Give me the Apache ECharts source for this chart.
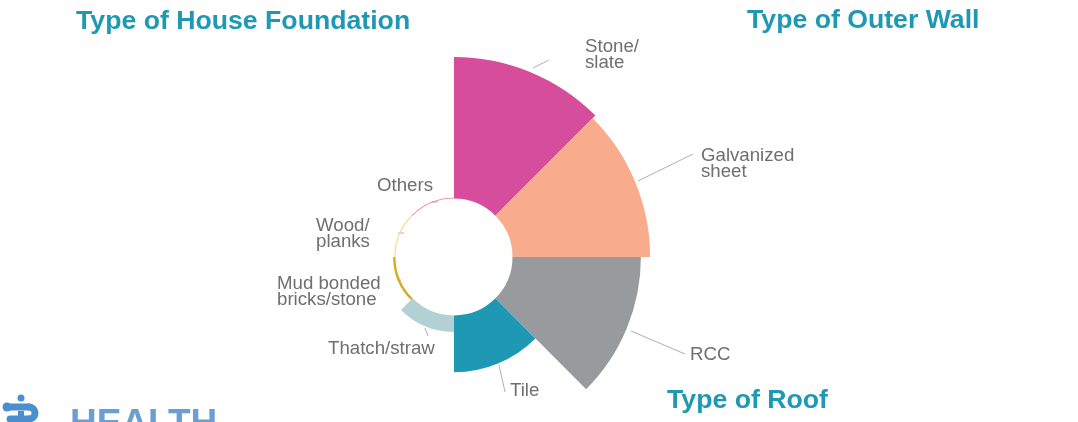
<!DOCTYPE html>
<html>
<head>
<meta charset="utf-8">
<style>
html, body { margin: 0; padding: 0; background: #fff; overflow: hidden; }
#main { width: 1078px; height: 422px; }
</style>
<script src="https://cdn.jsdelivr.net/npm/echarts@6/dist/echarts.min.js"></script>
</head>
<body>
<div id="main"></div>
<script>
// roof types, clockwise from 12 o'clock
const roofTypes = ['Stone/\nslate', 'Galvanized\nsheet', 'RCC', 'Tile', 'Thatch/straw', 'Mud bonded\nbricks/stone', 'Wood/\nplanks', 'Others'];
const roofShares = [29.2, 28.4, 26.5, 11.7, 3.4, 0.5, 0.25, 0.15];
const roofColors = ['#d64d9b', '#f8ac8c', '#989b9e', '#1e98b3', '#b3d1d3', '#d8ab22', '#fdd99a', '#e8798f'];
const headings = ['Type of House Foundation', 'Type of Outer Wall', 'Type of Roof'];
const brandName = 'HEALTH';

// label anchor and leader line for each slice
const labelSpots = [
  { x: 585, y: 55, line: [[533, 68], [549, 60]] },
  { x: 701, y: 164, line: [[638, 181], [693, 154]] },
  { x: 690, y: 355, line: [[631, 331], [685, 354]] },
  { x: 510, y: 390.5, line: [[499, 365], [505, 392]] },
  { x: 328, y: 348.5, line: [[425, 328], [428, 336]] },
  { x: 277, y: 292, line: [[397, 280], [401, 280]] },
  { x: 316, y: 234, line: [[398, 233], [404, 233]] },
  { x: 377, y: 185.5, line: [[432, 202], [438, 202]] }
];

const chart = echarts.init(document.getElementById('main'), null, { renderer: 'canvas' });

const titleFont = 'bold 26.67px "Liberation Sans"';
const logoBlue = '#4a8fcf';
const logoStroke = { fill: 'none', stroke: logoBlue, lineWidth: 7, lineCap: 'round' };

const option = {
  animation: false,
  backgroundColor: '#fff',
  color: roofColors,
  textStyle: { fontFamily: '"Liberation Sans", Arial, sans-serif' },
  graphic: [
    { type: 'text', x: 76, y: 8, style: { text: headings[0], font: titleFont, fill: '#1e98b3' } },
    { type: 'text', x: 747, y: 7, style: { text: headings[1], font: titleFont, fill: '#1e98b3' } },
    { type: 'text', x: 667, y: 387, style: { text: headings[2], font: titleFont, fill: '#1e98b3' } },
    { type: 'text', x: 70, y: 406, style: { text: brandName, font: 'bold 37px "Liberation Sans"', fill: '#6a9fd4' } },
    // logo mark, cut off by the bottom edge like the reference
    { type: 'circle', shape: { cx: 21, cy: 398, r: 3.5 }, style: { fill: logoBlue } },
    { type: 'circle', shape: { cx: 7, cy: 407, r: 4.5 }, style: { fill: logoBlue } },
    { type: 'polyline', shape: { points: [[7, 407], [29, 407]] }, style: logoStroke },
    { type: 'arc', shape: { cx: 29, cy: 413, r: 6, startAngle: -Math.PI / 2, endAngle: Math.PI / 2 }, style: logoStroke },
    { type: 'polyline', shape: { points: [[29, 419], [10, 419]] }, style: logoStroke },
    { type: 'rect', shape: { x: 18, y: 411, width: 6, height: 5 }, style: { fill: logoBlue } }
  ],
  series: [{
    type: 'pie',
    roseType: 'area',
    center: [454, 257],
    radius: [58.5, 200],
    startAngle: 90,
    clockwise: true,
    silent: true,
    data: roofTypes.map((name, i) => ({ name: name, value: roofShares[i] })),
    label: {
      show: true,
      formatter: '{b}',
      color: '#6f6f72',
      fontSize: 18.67,
      lineHeight: 16,
      fontFamily: '"Liberation Sans"'
    },
    labelLine: { show: true, lineStyle: { color: '#b0b0b0', width: 1 } },
    labelLayout: function (params) {
      const spot = labelSpots[params.dataIndex];
      return {
        x: spot.x,
        y: spot.y,
        align: 'left',
        verticalAlign: 'middle',
        labelLinePoints: [spot.line[0], spot.line[0], spot.line[1]]
      };
    }
  }]
};

chart.setOption(option);
</script>
</body>
</html>
